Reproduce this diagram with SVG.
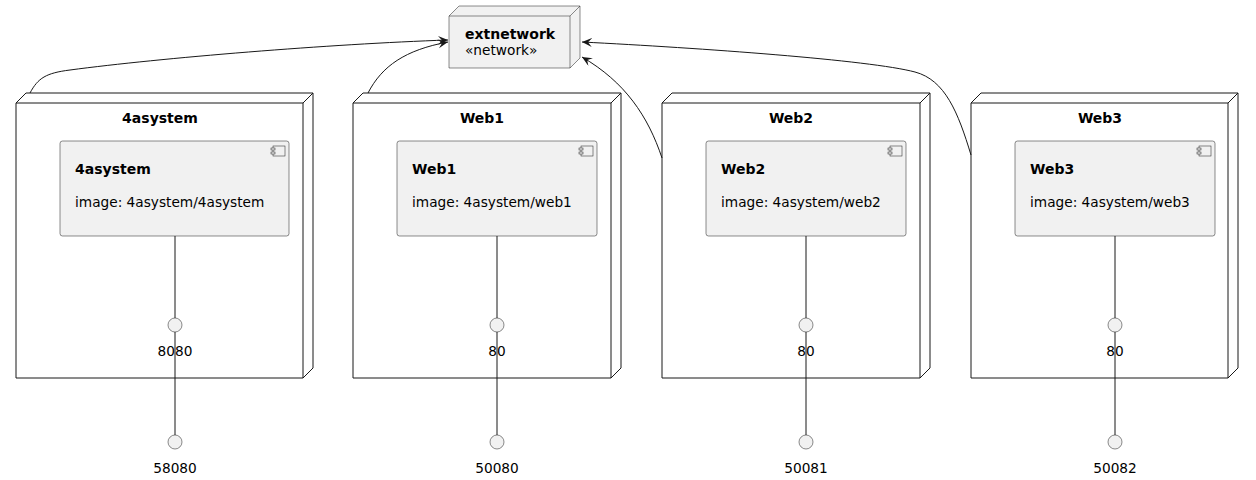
<svg xmlns="http://www.w3.org/2000/svg" width="1256" height="480" viewBox="0 0 1256 480">
<style>
  text{font-family:"DejaVu Sans","Liberation Sans",sans-serif;font-size:13.7px;fill:#000}
  .b{font-weight:bold;font-size:14px}
  .node{fill:#FFFFFF;stroke:#181818;stroke-width:1}
  .ext{fill:#F1F1F1;stroke:#181818;stroke-width:0.5}
  .comp{fill:#F1F1F1;stroke:#181818;stroke-width:0.5}
  .port{fill:#F1F1F1;stroke:#181818;stroke-width:0.5}
  .ln{fill:none;stroke:#181818;stroke-width:1}
  .ic{fill:#F1F1F1;stroke:#181818;stroke-width:0.5}
</style>
<defs>
  <marker id="arr" markerWidth="12" markerHeight="10" refX="10" refY="4.5" orient="auto" markerUnits="userSpaceOnUse">
    <path d="M0,0 L10,4.5 L0,9 L4,4.5 Z" fill="#181818"/>
  </marker>
  <g id="icon">
    <rect x="0" y="0" width="12" height="10" class="ic"/>
    <rect x="-2" y="2" width="4" height="2" class="ic"/>
    <rect x="-2" y="6" width="4" height="2" class="ic"/>
  </g>
</defs>

<g id="extnetwork">
  <path class="ext" d="M449,16 L459,6 L580,6 L580,58 L570,68 L449,68 Z"/>
  <path class="ln" style="stroke-width:0.5" d="M449,16 L570,16 L580,6 M570,16 L570,68"/>
  <text class="b" x="465" y="39">extnetwork</text>
  <text x="465" y="55">«network»</text>
</g>

<g id="node4asystem">
  <path class="node" d="M16,103 L26,93 L313,93 L313,368 L303,378 L16,378 Z"/>
  <path class="ln" d="M16,103 L303,103 L313,93 M303,103 L303,378"/>
  <text class="b" x="160" y="123" text-anchor="middle">4asystem</text>
</g>
<g id="comp4asystem">
  <rect class="comp" x="60" y="141" width="229" height="95" rx="2.5"/>
  <use href="#icon" x="273" y="146"/>
  <text class="b" x="75" y="174">4asystem</text>
  <text x="75" y="207">image: 4asystem/4asystem</text>
</g>

<g id="nodeWeb1">
  <path class="node" d="M353,103 L363,93 L621,93 L621,368 L611,378 L353,378 Z"/>
  <path class="ln" d="M353,103 L611,103 L621,93 M611,103 L611,378"/>
  <text class="b" x="482" y="123" text-anchor="middle">Web1</text>
</g>
<g id="compWeb1">
  <rect class="comp" x="397" y="141" width="200" height="95" rx="2.5"/>
  <use href="#icon" x="581" y="146"/>
  <text class="b" x="412" y="174">Web1</text>
  <text x="412" y="207">image: 4asystem/web1</text>
</g>

<g id="nodeWeb2">
  <path class="node" d="M662,103 L672,93 L930,93 L930,368 L920,378 L662,378 Z"/>
  <path class="ln" d="M662,103 L920,103 L930,93 M920,103 L920,378"/>
  <text class="b" x="791" y="123" text-anchor="middle">Web2</text>
</g>
<g id="compWeb2">
  <rect class="comp" x="706" y="141" width="200" height="95" rx="2.5"/>
  <use href="#icon" x="890" y="146"/>
  <text class="b" x="721" y="174">Web2</text>
  <text x="721" y="207">image: 4asystem/web2</text>
</g>

<g id="nodeWeb3">
  <path class="node" d="M971,103 L981,93 L1238,93 L1238,368 L1228,378 L971,378 Z"/>
  <path class="ln" d="M971,103 L1228,103 L1238,93 M1228,103 L1228,378"/>
  <text class="b" x="1100" y="123" text-anchor="middle">Web3</text>
</g>
<g id="compWeb3">
  <rect class="comp" x="1015" y="141" width="200" height="95" rx="2.5"/>
  <use href="#icon" x="1199" y="146"/>
  <text class="b" x="1030" y="174">Web3</text>
  <text x="1030" y="207">image: 4asystem/web3</text>
</g>

<g id="connectors">
  <path class="ln" d="M175,236 L175,318 M175,332 L175,435"/>
  <path class="ln" d="M497,236 L497,318 M497,332 L497,435"/>
  <path class="ln" d="M806,236 L806,318 M806,332 L806,435"/>
  <path class="ln" d="M1115,236 L1115,318 M1115,332 L1115,435"/>
  <path class="ln" marker-end="url(#arr)" d="M30,93 C38,78 46,73 70,70 C160,58 330,44 448,40"/>
  <path class="ln" marker-end="url(#arr)" d="M368,93 C382,66 405,50 448,42"/>
  <path class="ln" marker-end="url(#arr)" d="M662,158 C648,116 625,82 582,57"/>
  <path class="ln" marker-end="url(#arr)" d="M971,155 C958,112 945,80 915,72 C870,60 700,48 582,42"/>
</g>

<g id="port8080">
  <circle class="port" cx="175" cy="325" r="7"/>
  <text x="175" y="356" text-anchor="middle">8080</text>
</g>
<g id="port58080">
  <circle class="port" cx="175" cy="442" r="7"/>
  <text x="175" y="473" text-anchor="middle">58080</text>
</g>
<g id="portWeb1_80">
  <circle class="port" cx="497" cy="325" r="7"/>
  <text x="497" y="356" text-anchor="middle">80</text>
</g>
<g id="port50080">
  <circle class="port" cx="497" cy="442" r="7"/>
  <text x="497" y="473" text-anchor="middle">50080</text>
</g>
<g id="portWeb2_80">
  <circle class="port" cx="806" cy="325" r="7"/>
  <text x="806" y="356" text-anchor="middle">80</text>
</g>
<g id="port50081">
  <circle class="port" cx="806" cy="442" r="7"/>
  <text x="806" y="473" text-anchor="middle">50081</text>
</g>
<g id="portWeb3_80">
  <circle class="port" cx="1115" cy="325" r="7"/>
  <text x="1115" y="356" text-anchor="middle">80</text>
</g>
<g id="port50082">
  <circle class="port" cx="1115" cy="442" r="7"/>
  <text x="1115" y="473" text-anchor="middle">50082</text>
</g>
</svg>
